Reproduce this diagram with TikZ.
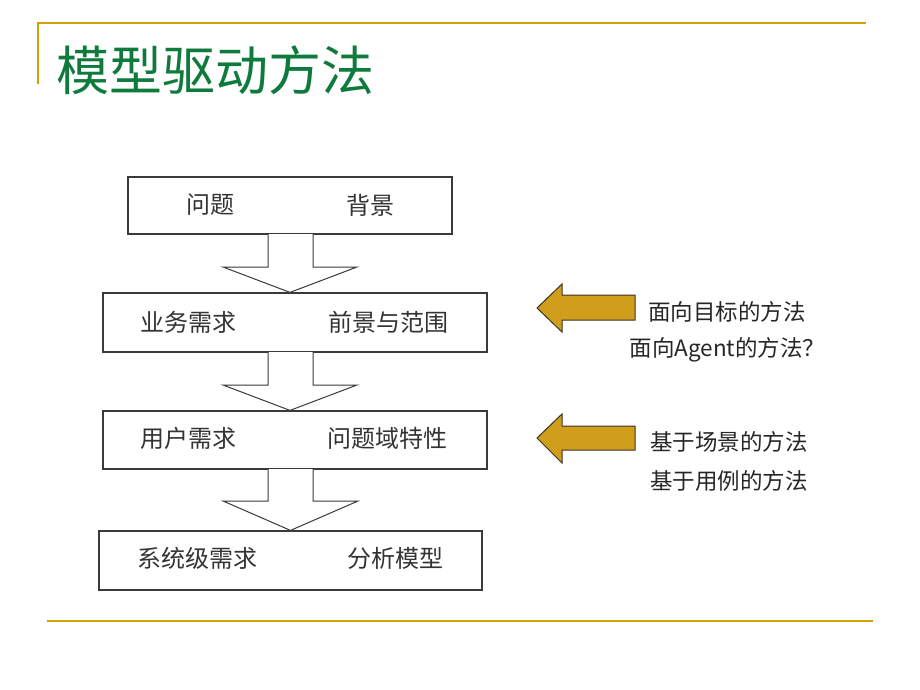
\documentclass[tikz,border=0pt]{standalone}
\usepackage{fontspec}
\setmainfont{Noto Sans CJK SC}
\newfontfamily\cjk{Noto Sans CJK SC}
\usetikzlibrary{calc}
\definecolor{titlegreen}{HTML}{0E7A3C}
\definecolor{rulegold}{HTML}{D4A200}
\definecolor{arrowgold}{HTML}{D09E1C}
\definecolor{arrowedge}{HTML}{3A3320}
\definecolor{boxline}{HTML}{3A3A3A}
\definecolor{boxtext}{HTML}{333333}
\tikzset{
  rulegoldline/.style={draw=rulegold, line width=2.2pt},
  stagebox/.style={draw=boxline, line width=1.2pt, fill=white, inner sep=0pt},
  boxlabel/.style={text=boxtext, font=\cjk\fontsize{24}{26}\selectfont, inner sep=0pt},
  sidelabel/.style={text=black!85, font=\cjk\fontsize{22.5}{25}\selectfont, inner sep=0pt},
  blockarrow/.style={draw=boxline, line width=1pt, fill=white, line join=miter},
  goldarrow/.style={draw=arrowedge, line width=1pt, fill=arrowgold, line join=miter}
}
\begin{document}
\begin{tikzpicture}[x=1pt,y=-1pt]
\useasboundingbox (0,0) rectangle (920,690);
% rules
\coordinate (tl) at (37,23);
\coordinate (tr) at (866,23);
\coordinate (vt) at (38,23);
\coordinate (vb) at (38,84);
\coordinate (bl) at (47,621);
\coordinate (br) at (873,621);
\draw[rulegoldline] (tl) -- (tr);
\draw[rulegoldline] (vt) -- (vb);
\draw[rulegoldline] (bl) -- (br);
% title
\node[anchor=west, text=titlegreen, font=\cjk\fontsize{53}{57}\selectfont, inner sep=0pt] (title) at (56,70) {模型驱动方法};
% boxes
\node[stagebox, minimum width=324pt, minimum height=57pt] (b1) at (290,205.5) {};
\node[stagebox, minimum width=384pt, minimum height=59pt] (b2) at (295,322.5) {};
\node[stagebox, minimum width=384pt, minimum height=58pt] (b3) at (295,440) {};
\node[stagebox, minimum width=383pt, minimum height=59pt] (b4) at (290.5,560.5) {};
% box texts
\node[boxlabel] (t1a) at (210,205) {问题};
\node[boxlabel] (t1b) at (370,205) {背景};
\node[boxlabel] (t2a) at (188.5,322) {业务需求};
\node[boxlabel] (t2b) at (388,322) {前景与范围};
\node[boxlabel] (t3a) at (188.5,438) {用户需求};
\node[boxlabel] (t3b) at (387.5,438) {问题域特性};
\node[boxlabel] (t4a) at (197,558) {系统级需求};
\node[boxlabel] (t4b) at (395.5,558) {分析模型};
% block arrows between boxes
\draw[blockarrow] (268,234) -- (268,267) -- (223,267) -- (b1.south |- b2.north) -- (357,267) -- (313,267) -- (313,234);
\draw[blockarrow] (268,352) -- (268,385) -- (223,385) -- (b1.south |- b3.north) -- (357,385) -- (313,385) -- (313,352);
\draw[blockarrow] (268,469) -- (268,501) -- (223,501) -- (b4.north) -- (358,501) -- (313,501) -- (313,469);
% gold arrows
\draw[goldarrow] (537,308) -- (562,284) -- (562,295) -- (635,295) -- (635,320) -- (562,320) -- (562,332) -- cycle;
\draw[goldarrow] (537,438) -- (562,414) -- (562,426) -- (635,426) -- (635,450) -- (562,450) -- (562,463) -- cycle;
% side texts
\node[sidelabel] (s1) at (727,312) {面向目标的方法};
\node[sidelabel] (s2) at (727.5,350) {面向Agent的方法？};
\node[sidelabel] (s3) at (729,442) {基于场景的方法};
\node[sidelabel] (s4) at (729,481) {基于用例的方法};
\end{tikzpicture}
\end{document}
